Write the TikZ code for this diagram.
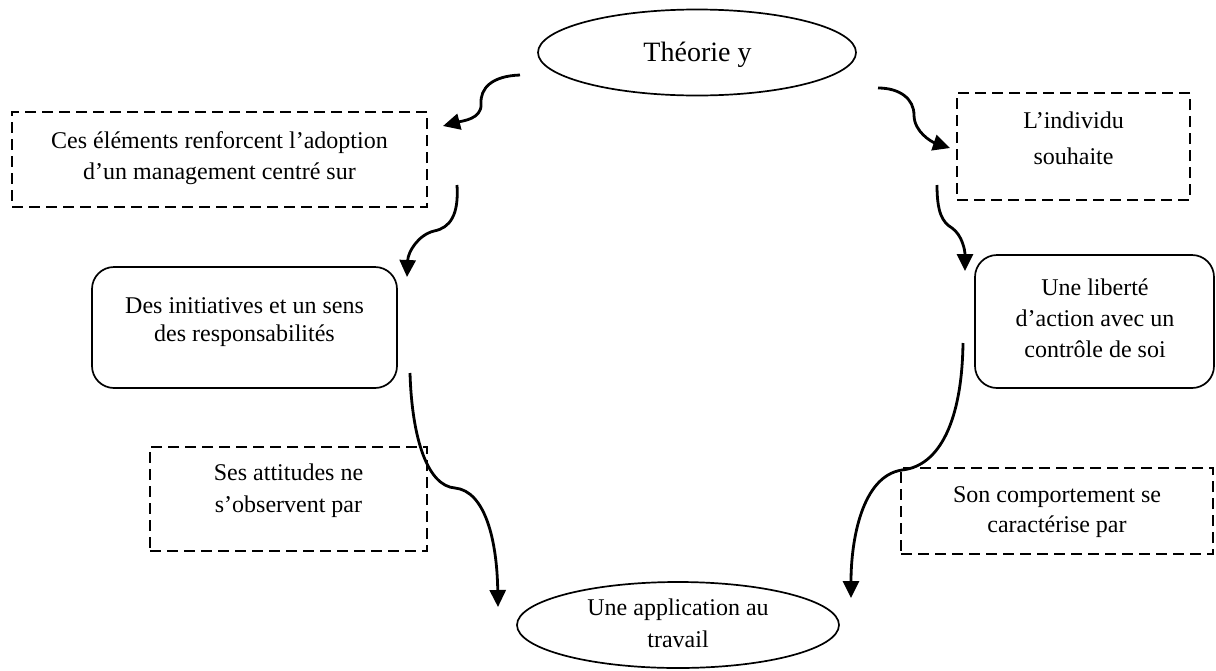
\documentclass[tikz,border=0pt]{standalone}
\usepackage{fontspec}
\setmainfont{Liberation Serif}
\usetikzlibrary{arrows.meta,shapes.geometric}
% invisible strut that fixes the height of a block's first line
\newcommand\firstline{\rule{0pt}{20pt}}
\begin{document}
\begin{tikzpicture}[x=1pt,y=-1pt,
  dbox/.style={draw, line width=2.3pt, dash pattern=on 11pt off 6pt, inner sep=0pt},
  rbox/.style={draw, line width=1.7pt, rounded corners=22pt, inner sep=0pt},
  oval/.style={draw, ellipse, line width=1.7pt, inner sep=0pt},
  txt/.style={font=\fontsize{24}{#1}\selectfont, align=center, anchor=north, inner sep=0pt},
  arr/.style={line width=2.8pt, -{Triangle[length=17pt,width=16pt]}}]
\useasboundingbox (0,0) rectangle (1216,670);

% ovals
\node[oval, minimum width=318pt, minimum height=86pt] (e1) at (697,52.5) {};
\node[font=\fontsize{28}{34}\selectfont, anchor=base, inner sep=0pt] (e1t) at (697.5,61) {Théorie y};
\node[oval, minimum width=322pt, minimum height=86pt] (e2) at (678,625) {};
\node[txt=32] (e2t) at (678,595) {\firstline Une application au\\ travail};

% dashed boxes
\node[dbox, minimum width=415pt, minimum height=95pt] (b1) at (219.5,159.5) {};
\node[txt=31] (b1t) at (219.5,128) {\firstline Ces éléments renforcent l’adoption\\ d’un management centré sur};
\node[dbox, minimum width=233pt, minimum height=107pt] (b2) at (1073.5,146.5) {};
\node[txt=36] (b2t) at (1073.5,108) {\firstline L’individu\\ souhaite};
\node[dbox, minimum width=277pt, minimum height=104pt] (b5) at (288.5,499) {};
\node[txt=32] (b5t) at (288.5,460) {\firstline Ses attitudes ne\\ s’observent par};
\node[dbox, minimum width=312pt, minimum height=86pt] (b6) at (1057,511) {};
\node[txt=30] (b6t) at (1057,482) {\firstline Son comportement se\\ caractérise par};

% rounded boxes
\node[rbox, minimum width=305pt, minimum height=121pt] (b3) at (244.5,327.5) {};
\node[txt=28] (b3t) at (244.5,293) {\firstline Des initiatives et un sens\\ des responsabilités};
\node[rbox, minimum width=239pt, minimum height=133pt] (b4) at (1094.5,321.5) {};
\node[txt=31] (b4t) at (1095,275) {\firstline Une liberté\\ d’action avec un\\ contrôle de soi};

% arrow end points
\coordinate (a1s) at (520,75);   \coordinate (a1e) at (443,126);
\coordinate (a2s) at (878,88);   \coordinate (a2e) at (950,148);
\coordinate (a3s) at (457,185);  \coordinate (a3e) at (407,277);
\coordinate (a4s) at (937,185);  \coordinate (a4e) at (965,271);
\coordinate (a5s) at (410,373);  \coordinate (a5e) at (498,607);
\coordinate (a6s) at (963,343);  \coordinate (a6e) at (851,598);

% curved arrows
\draw[arr] (a1s) .. controls (492,76) and (480,88) .. (481,104)
                 .. controls (482,119) and (462,121) .. (a1e);
\draw[arr] (a2s) .. controls (900,88) and (914,99) .. (914,115)
                 .. controls (914,132) and (932,142) .. (a2e);
\draw[arr] (a3s) .. controls (459,215) and (450,228) .. (434,231)
                 .. controls (418,235) and (408,252) .. (a3e);
\draw[arr] (a4s) .. controls (937,212) and (942,222) .. (952,228)
                 .. controls (962,235) and (965,250) .. (a4e);
\draw[arr] (a5s) .. controls (412,440) and (428,486) .. (455,488)
                 .. controls (485,491) and (497,540) .. (a5e);
\draw[arr] (a6s) .. controls (962,420) and (940,466) .. (902,470)
                 .. controls (862,476) and (851,540) .. (a6e);
\end{tikzpicture}
\end{document}
